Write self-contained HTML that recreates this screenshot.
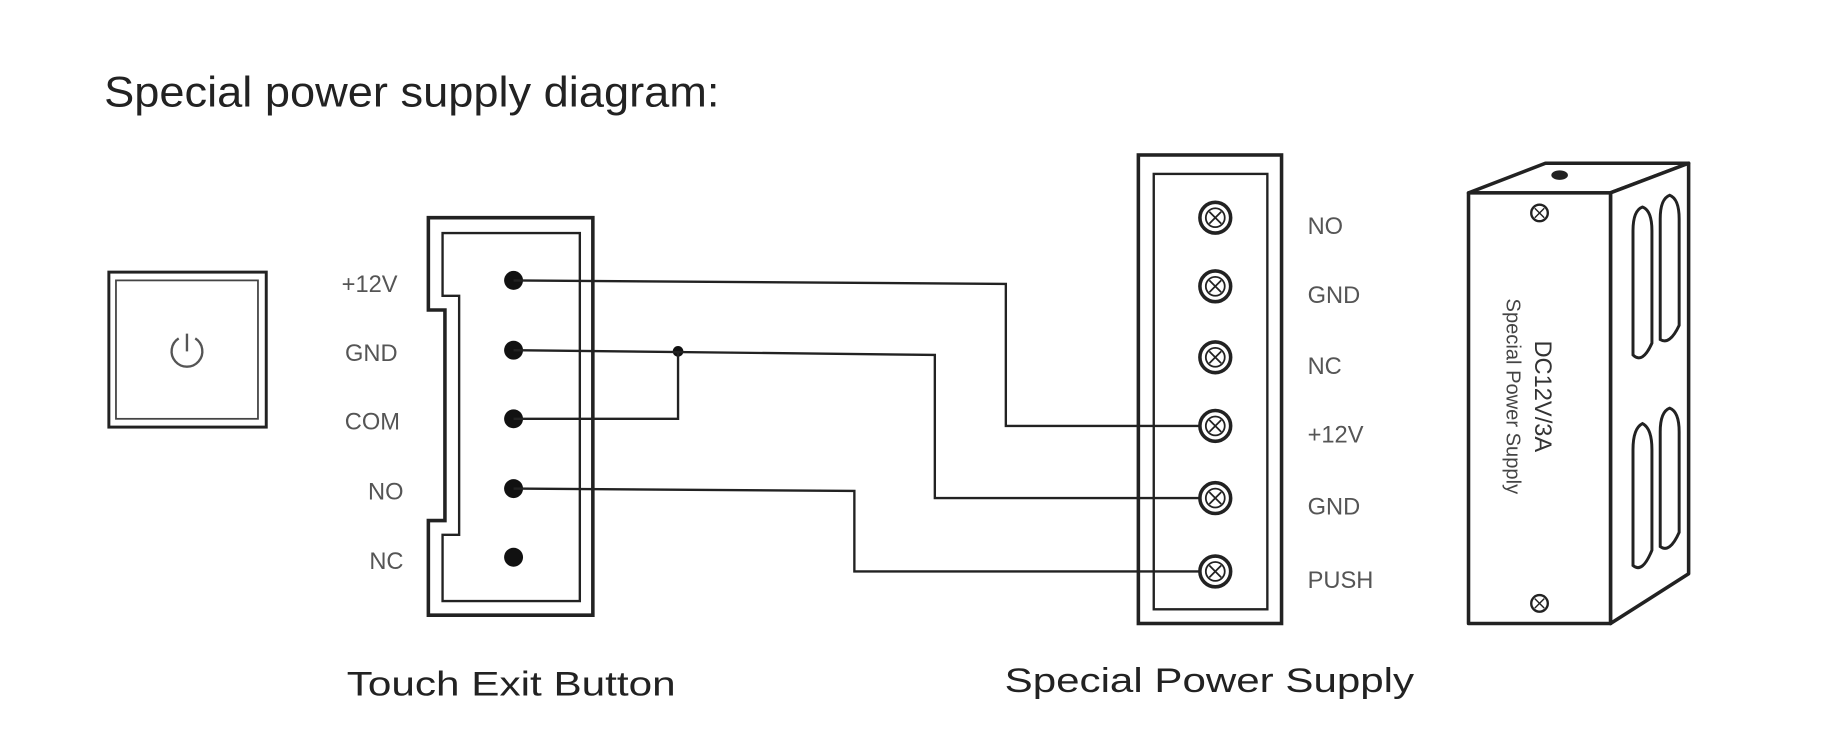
<!DOCTYPE html>
<html><head><meta charset="utf-8"><style>
html,body{margin:0;padding:0;background:#fff;}
svg{display:block;}
text{font-family:"Liberation Sans",sans-serif;}
</style></head><body>
<svg width="1846" height="756" viewBox="0 0 1560 639" preserveAspectRatio="none" xmlns="http://www.w3.org/2000/svg">
<rect width="1560" height="639" fill="#fff"/>
<text x="88" y="90" font-size="36" fill="#222" textLength="520" lengthAdjust="spacingAndGlyphs">Special power supply diagram:</text>
<!-- button -->
<rect x="92" y="230" width="133" height="131" fill="none" stroke="#222" stroke-width="2.5"/>
<rect x="98" y="237" width="120" height="117" fill="none" stroke="#444" stroke-width="1.5"/>
<path d="M151 286 A13 13 0 1 0 165 286" fill="none" stroke="#555" stroke-width="2"/>
<line x1="158" y1="282" x2="158" y2="297" stroke="#555" stroke-width="2"/>
<!-- left terminal -->
<path d="M362 184 H501 V520 H362 V440 H376 V262 H362 Z" fill="none" stroke="#222" stroke-width="3"/>
<path d="M374 197 H490 V508 H374 V452 H388 V250 H374 Z" fill="none" stroke="#222" stroke-width="2"/>
<g fill="#111">
<circle cx="434" cy="237" r="8"/><circle cx="434" cy="296" r="8"/><circle cx="434" cy="354" r="8"/><circle cx="434" cy="413" r="8"/><circle cx="434" cy="471" r="8"/>
<circle cx="573" cy="297" r="4.5"/>
</g>
<g font-size="20" fill="#555" text-anchor="end">
<text x="336" y="247">+12V</text><text x="336" y="305">GND</text><text x="338" y="363">COM</text><text x="341" y="422">NO</text><text x="341" y="481">NC</text>
</g>
<!-- wires -->
<g fill="none" stroke="#222" stroke-width="2">
<path d="M434 237 L850 240 V360 H1027"/>
<path d="M434 296 L790 300 V421 H1027"/>
<path d="M573 297 V354 H434"/>
<path d="M434 413 L722 415 V483 H1027"/>
</g>
<!-- power supply terminal -->
<rect x="962" y="131" width="121" height="396" fill="none" stroke="#222" stroke-width="3"/>
<rect x="975" y="147" width="96" height="368" fill="none" stroke="#222" stroke-width="2"/>
<g stroke="#222" fill="#fff">
<g transform="translate(1027,184)"><circle r="13" stroke-width="3"/><circle r="8" stroke-width="1.5"/><path d="M-5 -5 L5 5 M5 -5 L-5 5" stroke-width="1.5"/></g>
<g transform="translate(1027,242)"><circle r="13" stroke-width="3"/><circle r="8" stroke-width="1.5"/><path d="M-5 -5 L5 5 M5 -5 L-5 5" stroke-width="1.5"/></g>
<g transform="translate(1027,302)"><circle r="13" stroke-width="3"/><circle r="8" stroke-width="1.5"/><path d="M-5 -5 L5 5 M5 -5 L-5 5" stroke-width="1.5"/></g>
<g transform="translate(1027,360)"><circle r="13" stroke-width="3"/><circle r="8" stroke-width="1.5"/><path d="M-5 -5 L5 5 M5 -5 L-5 5" stroke-width="1.5"/></g>
<g transform="translate(1027,421)"><circle r="13" stroke-width="3"/><circle r="8" stroke-width="1.5"/><path d="M-5 -5 L5 5 M5 -5 L-5 5" stroke-width="1.5"/></g>
<g transform="translate(1027,483)"><circle r="13" stroke-width="3"/><circle r="8" stroke-width="1.5"/><path d="M-5 -5 L5 5 M5 -5 L-5 5" stroke-width="1.5"/></g>
</g>
<g font-size="20" fill="#555">
<text x="1105" y="198">NO</text><text x="1105" y="256">GND</text><text x="1105" y="316">NC</text><text x="1105" y="374">+12V</text><text x="1105" y="435">GND</text><text x="1105" y="497">PUSH</text>
</g>
<!-- 3D box -->
<g fill="#fff" stroke="#222" stroke-width="3" stroke-linejoin="round">
<path d="M1241 163 L1306 138 H1427 L1361 163 Z"/>
<path d="M1361 163 L1427 138 V485 L1361 527 Z"/>
<rect x="1241" y="163" width="120" height="364"/>
</g>
<ellipse cx="1318" cy="148" rx="7" ry="4" fill="#222"/>
<g fill="none" stroke="#222" stroke-width="2.5">
<path d="M1380 195 Q1380 178 1388 175 Q1396 178 1396 195 V290 Q1388 308 1380 300 Z"/>
<path d="M1403 185 Q1403 168 1411 165 Q1419 168 1419 185 V275 Q1411 292 1403 287 Z"/>
<path d="M1380 380 Q1380 362 1388 358 Q1396 362 1396 380 V465 Q1388 485 1380 478 Z"/>
<path d="M1403 365 Q1403 348 1411 345 Q1419 348 1419 365 V450 Q1411 468 1403 462 Z"/>
</g>
<g stroke="#222" fill="#fff">
<g transform="translate(1301,180)"><circle r="7" stroke-width="2"/><path d="M-4 -4 L4 4 M4 -4 L-4 4" stroke-width="1.2"/></g>
<g transform="translate(1301,510)"><circle r="7" stroke-width="2"/><path d="M-4 -4 L4 4 M4 -4 L-4 4" stroke-width="1.2"/></g>
</g>
<text transform="translate(1297,335) rotate(90)" font-size="20" fill="#333" text-anchor="middle">DC12V/3A</text>
<text transform="translate(1273,335) rotate(90)" font-size="17" fill="#444" text-anchor="middle">Special Power Supply</text>
<text x="293" y="588" font-size="29" fill="#222" textLength="278" lengthAdjust="spacingAndGlyphs">Touch Exit Button</text>
<text x="849" y="585" font-size="29" fill="#222" textLength="346" lengthAdjust="spacingAndGlyphs">Special Power Supply</text>
</svg>
</body></html>
